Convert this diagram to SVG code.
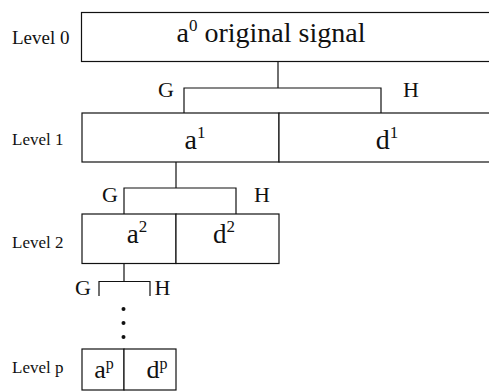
<svg xmlns="http://www.w3.org/2000/svg" width="489" height="392" viewBox="0 0 489 392">
<style>
.box{fill:#fff;stroke:#111;stroke-width:1.2}
.ln{fill:none;stroke:#111;stroke-width:1.2}
.lvl{font-family:"Liberation Serif","Times New Roman",serif;font-size:17px;fill:#111}
.big{font-family:"Liberation Serif","Times New Roman",serif;font-size:27px;fill:#111;text-anchor:middle}
.gh{font-family:"Liberation Serif","Times New Roman",serif;font-size:22px;fill:#111;text-anchor:middle}
.sup{font-size:17px}
</style>
<rect width="489" height="392" fill="#fff"/>
<g id="labels">
<text class="lvl" x="12" y="44" style="font-size:19px">Level 0</text>
<text class="lvl" x="12" y="145">Level 1</text>
<text class="lvl" x="12" y="248">Level 2</text>
<text class="lvl" x="12" y="373">Level p</text>
</g>
<g id="connectors">
<path class="ln" d="M278,61.5 V88 M184,113 V88 H381 V113"/>
<path class="ln" d="M176,162 V188 M124,214 V188 H236 V214"/>
<path class="ln" d="M124,264 V281.5 M99,296 V281.5 H150 V296"/>
<circle cx="123.5" cy="309" r="2" fill="#111"/>
<circle cx="123.5" cy="323" r="2" fill="#111"/>
<circle cx="123.5" cy="337" r="2" fill="#111"/>
<text class="gh" x="166" y="97">G</text>
<text class="gh" x="411" y="97">H</text>
<text class="gh" x="110" y="202">G</text>
<text class="gh" x="262" y="202">H</text>
<text class="gh" x="83" y="295">G</text>
<text class="gh" x="162.5" y="295">H</text>
</g>
<g id="a0">
<rect class="box" x="81.5" y="12.5" width="420" height="49"/>
<text class="big" x="271" y="42" style="font-size:28px">a<tspan class="sup" dy="-11">0</tspan><tspan dy="11"> original signal</tspan></text>
</g>
<g id="a1">
<rect class="box" x="82" y="113" width="197" height="49"/>
<text class="big" x="195" y="149" style="font-size:28px">a<tspan class="sup" dy="-11">1</tspan></text>
</g>
<g id="d1">
<rect class="box" x="279" y="113" width="220" height="49"/>
<text class="big" x="387" y="149" style="font-size:28px">d<tspan class="sup" dy="-11">1</tspan></text>
</g>
<g id="a2">
<rect class="box" x="82" y="214" width="94" height="49.5"/>
<text class="big" x="137" y="243" style="font-size:27px">a<tspan class="sup" dy="-11">2</tspan></text>
</g>
<g id="d2">
<rect class="box" x="176" y="214" width="103" height="49.5"/>
<text class="big" x="224" y="243" style="font-size:27px">d<tspan class="sup" dy="-11">2</tspan></text>
</g>
<g id="ap">
<rect class="box" x="82" y="349" width="42" height="41"/>
<text class="big" x="104" y="378" style="font-size:26px">a<tspan class="sup" dy="-9" style="font-size:16px">p</tspan></text>
</g>
<g id="dp">
<rect class="box" x="124" y="349" width="52" height="41"/>
<text class="big" x="157" y="378" style="font-size:26px">d<tspan class="sup" dy="-9" style="font-size:16px">p</tspan></text>
</g>
</svg>
